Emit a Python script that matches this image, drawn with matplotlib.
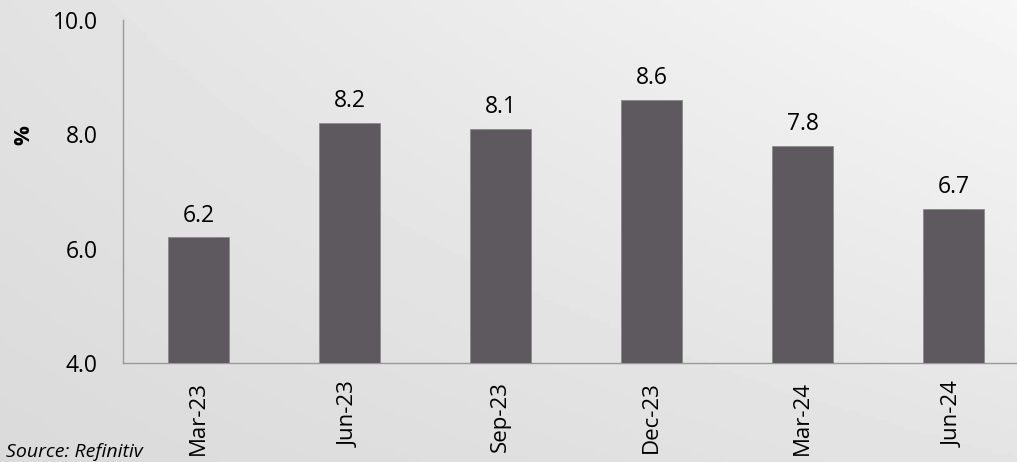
import numpy as np
import matplotlib.pyplot as plt

# Quarterly values (%)
quarters = ['Mar-23', 'Jun-23', 'Sep-23', 'Dec-23', 'Mar-24', 'Jun-24']
values = [6.2, 8.2, 8.1, 8.6, 7.8, 6.7]
y_ticks = [4.0, 6.0, 8.0, 10.0]

plt.rcParams['font.family'] = ['Open Sans', 'DejaVu Sans']

fig = plt.figure(figsize=(10.17, 4.62), dpi=100)

# soft gray gradient background, lighter toward the top right
bg = fig.add_axes([0, 0, 1, 1], zorder=-10)
gx, gy = np.meshgrid(np.linspace(0, 1, 200), np.linspace(0, 1, 100))
grad = 0.855 + 0.039 * gx + 0.031 * gy + 0.04 * gx * gy
bg.imshow(grad, cmap='gray', vmin=0, vmax=1, aspect='auto',
          extent=[0, 1, 0, 1], origin='lower')
bg.axis('off')

ax = fig.add_axes([0.1209, 0.2143, 0.8909, 0.7424])
ax.patch.set_alpha(0)

x = np.arange(len(quarters))
bars = ax.bar(x, values, width=0.4, color='#5e595e', edgecolor='#8a8a8a',
              linewidth=0.6, zorder=3)
ax.bar_label(bars, labels=[f'{v:.1f}' for v in values], padding=7,
             fontsize=16.5, color='black')

ax.set_xlim(-0.5, len(quarters) - 0.5)
ax.set_ylim(4, 10)
ax.set_yticks(y_ticks)
ax.set_yticklabels([f'{t:.1f}' for t in y_ticks], fontsize=16.5)
ax.set_xticks(x)
ax.set_xticklabels(quarters, rotation=90, fontsize=16)
ax.tick_params(axis='y', length=0, pad=18)
ax.tick_params(axis='x', length=0, pad=13)

for s in ['top', 'right']:
    ax.spines[s].set_visible(False)
for s in ['left', 'bottom']:
    ax.spines[s].set_color('#999999')
    ax.spines[s].set_linewidth(1.0)

fig.text(0.023, 0.708, '%', rotation=90, fontsize=16, fontweight='bold',
         ha='center', va='center')
fig.text(0.006, 0.003, 'Source: Refinitiv', fontsize=14, style='italic',
         ha='left', va='bottom')

fig.savefig('out.png', dpi=100)
